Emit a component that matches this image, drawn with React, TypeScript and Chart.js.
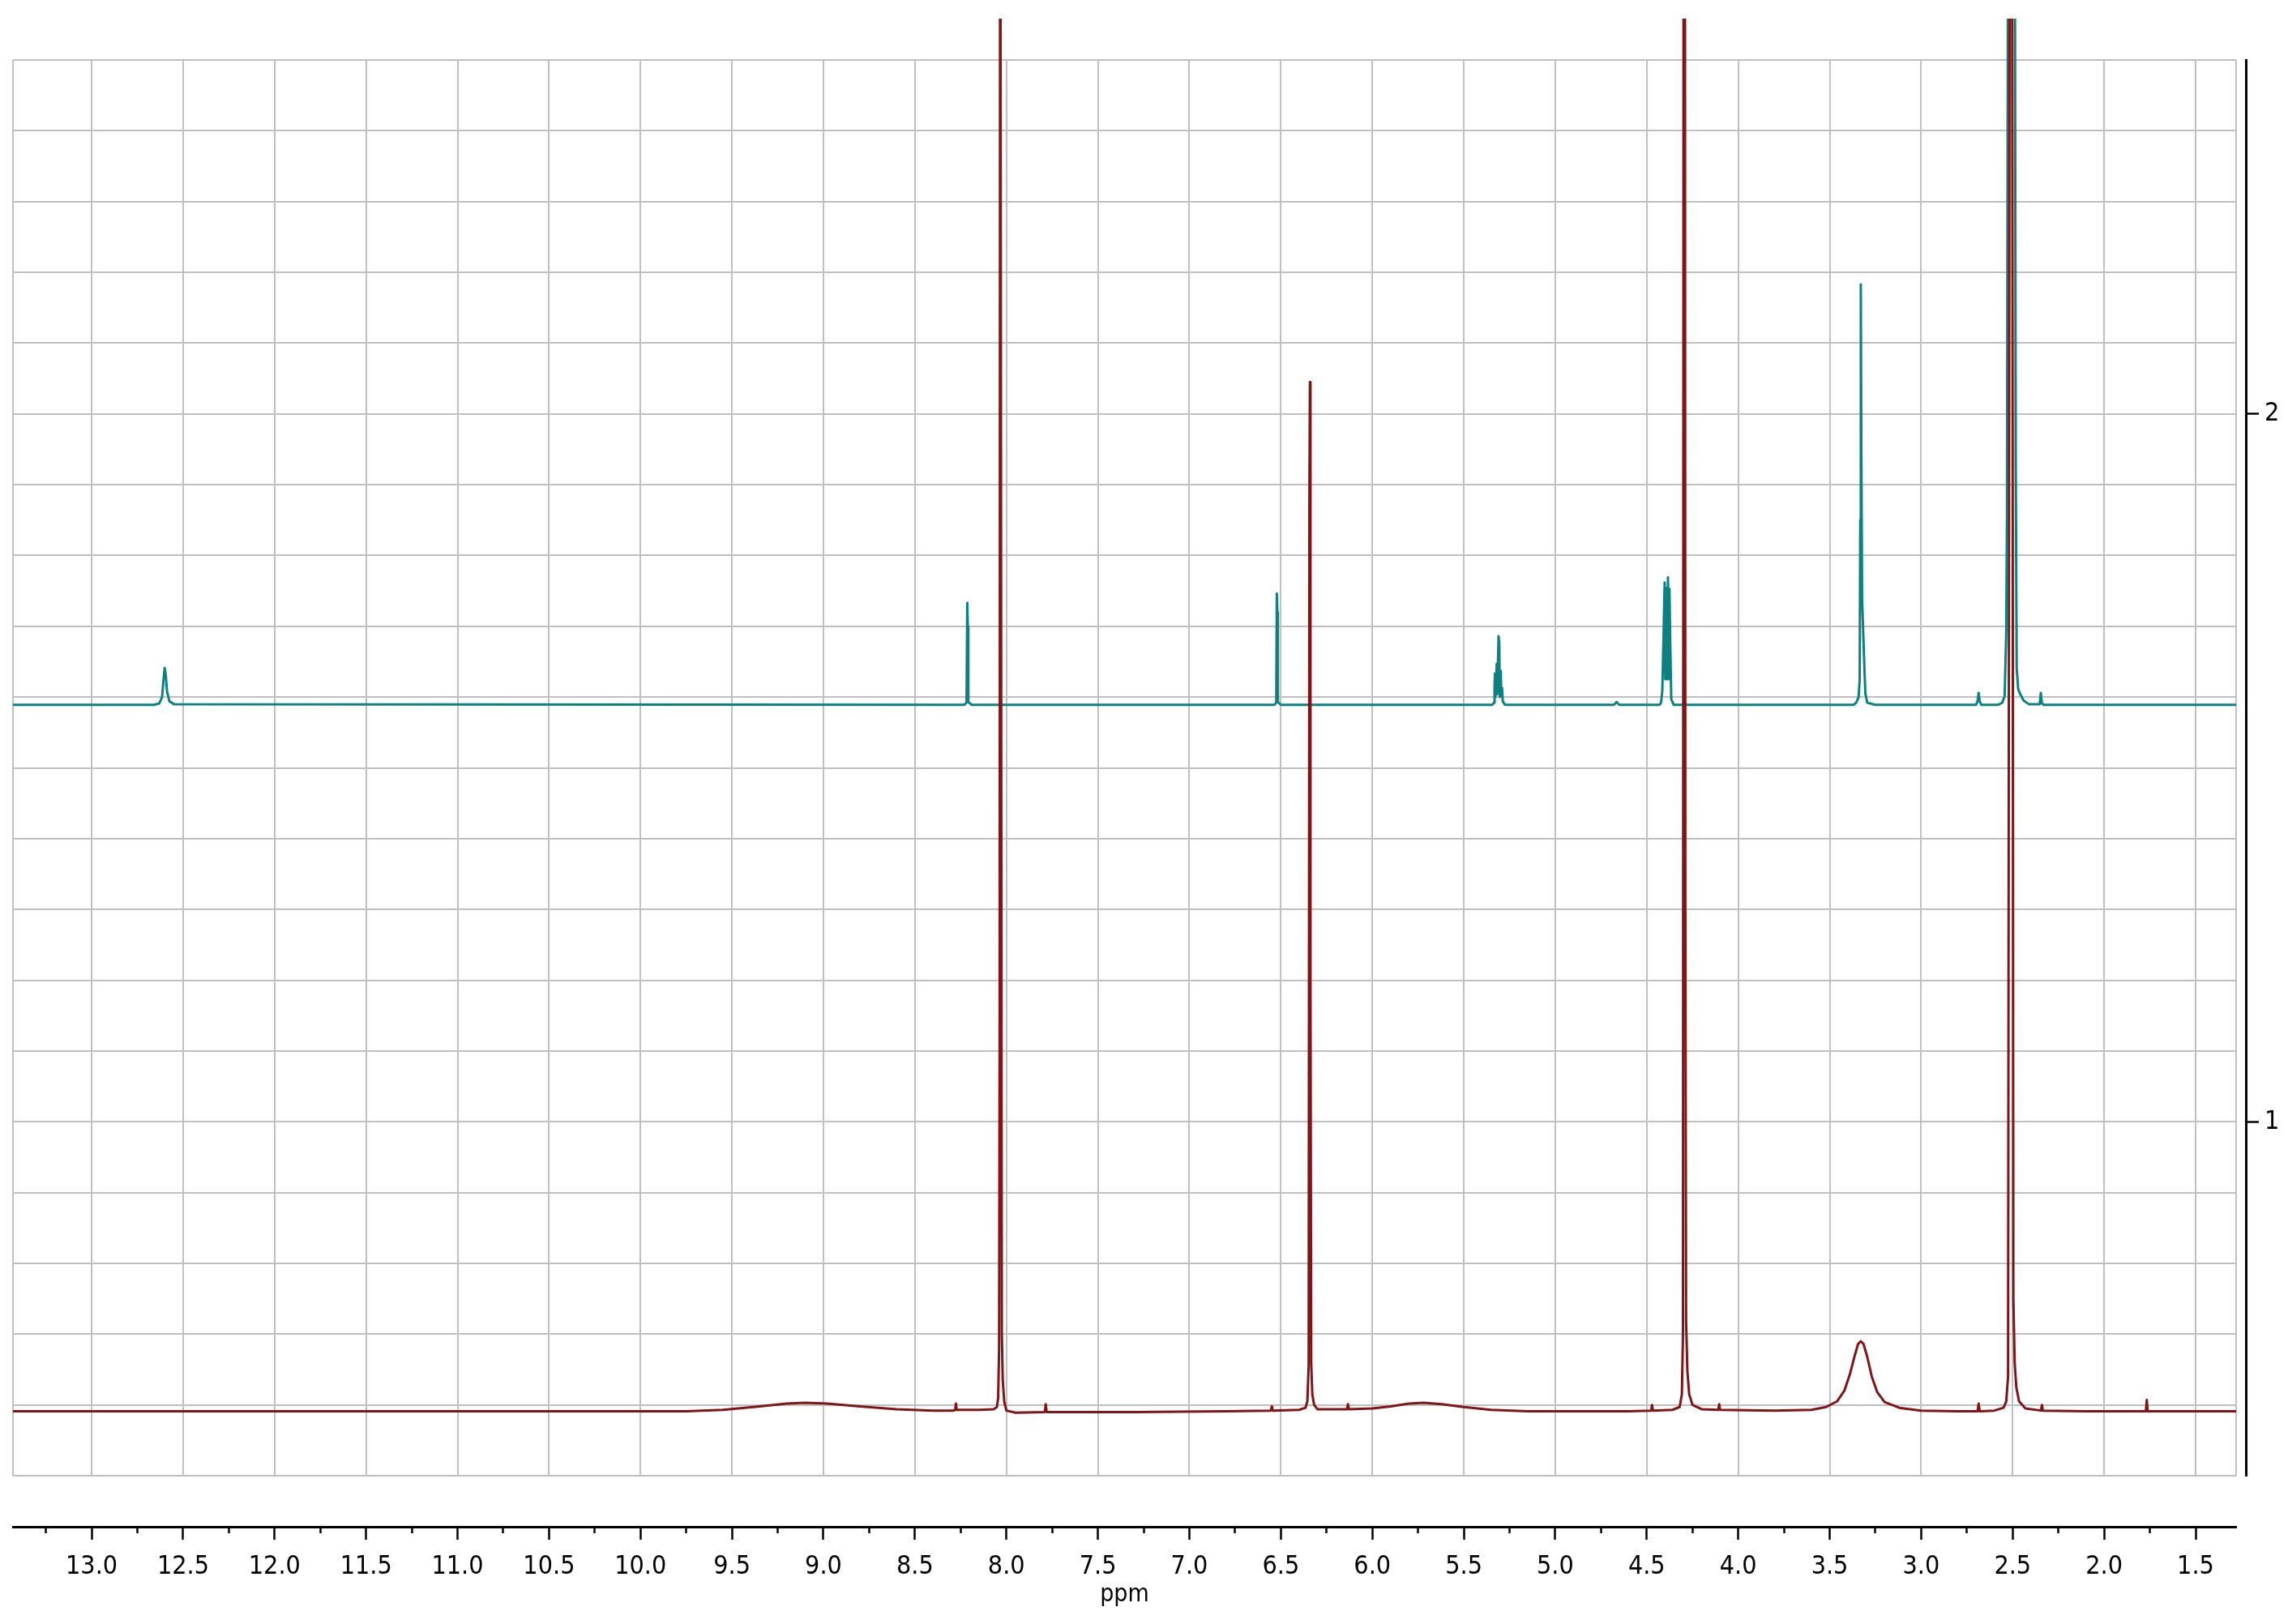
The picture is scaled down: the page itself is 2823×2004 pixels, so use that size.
import React, { useEffect, useRef } from "react";
import { Chart, registerables } from "chart.js";

Chart.register(...registerables);

// ---- axis ranges / tick values ----
const X_LEFT = 13.43;
const X_RIGHT = 1.2785;
const Y_MIN = 0.5;
const Y_MAX = 2.5;

const xMajorTicks = [
  13.0, 12.5, 12.0, 11.5, 11.0, 10.5, 10.0, 9.5, 9.0, 8.5, 8.0, 7.5,
  7.0, 6.5, 6.0, 5.5, 5.0, 4.5, 4.0, 3.5, 3.0, 2.5, 2.0, 1.5,
];
const yLabelTicks = [1, 2];
const xTitle = "ppm";

// ---- spectra: [ppm, intensity] ----
const redSpectrum: [number, number][] = [
  [13.43, 0.591], [9.75, 0.591], [9.55, 0.593], [9.35, 0.598], [9.2, 0.602],
  [9.1, 0.603], [8.98, 0.602], [8.8, 0.598], [8.6, 0.594], [8.4, 0.592],
  [8.29, 0.592], [8.28, 0.593], [8.276, 0.602], [8.272, 0.593], [8.15, 0.593],
  [8.07, 0.594], [8.052, 0.597], [8.045, 0.61], [8.04, 0.68], [8.037, 1.142],
  [8.034, 3.2], [8.03, 3.2], [8.028, 1.441], [8.025, 0.7], [8.02, 0.635],
  [8.012, 0.605], [8.0, 0.592], [7.95, 0.589], [7.79, 0.59], [7.785, 0.601],
  [7.78, 0.59], [7.3, 0.59], [6.8, 0.591], [6.555, 0.592], [6.549, 0.598],
  [6.544, 0.592], [6.4, 0.593], [6.365, 0.596], [6.355, 0.605], [6.348, 0.655],
  [6.344, 1.874], [6.341, 2.045], [6.338, 1.2], [6.334, 0.66], [6.328, 0.615],
  [6.318, 0.6], [6.3, 0.594], [6.2, 0.594], [6.138, 0.594], [6.133, 0.601],
  [6.128, 0.594], [6.0, 0.595], [5.9, 0.598], [5.8, 0.602], [5.72, 0.603],
  [5.62, 0.601], [5.5, 0.597], [5.35, 0.593], [5.15, 0.591], [4.6, 0.591],
  [4.476, 0.592], [4.471, 0.6], [4.466, 0.592], [4.36, 0.593], [4.32, 0.597],
  [4.308, 0.615], [4.302, 0.7], [4.299, 2.6], [4.296, 3.2], [4.292, 3.2],
  [4.289, 1.3], [4.285, 0.72], [4.278, 0.648], [4.268, 0.615], [4.25, 0.6],
  [4.2, 0.594], [4.109, 0.593], [4.104, 0.601], [4.099, 0.593], [3.8, 0.592],
  [3.6, 0.593], [3.52, 0.597], [3.46, 0.605], [3.42, 0.62], [3.39, 0.643],
  [3.365, 0.668], [3.345, 0.686], [3.33, 0.69], [3.315, 0.686], [3.295, 0.668],
  [3.27, 0.64], [3.24, 0.618], [3.2, 0.604], [3.12, 0.596], [3.0, 0.592],
  [2.8, 0.591], [2.692, 0.591], [2.686, 0.602], [2.68, 0.591], [2.6, 0.592],
  [2.55, 0.596], [2.535, 0.605], [2.525, 0.64], [2.52, 1.79], [2.514, 3.2],
  [2.505, 3.2], [2.5, 1.958], [2.496, 0.75], [2.489, 0.66], [2.48, 0.625],
  [2.465, 0.605], [2.43, 0.595], [2.345, 0.592], [2.34, 0.6], [2.335, 0.592],
  [2.1, 0.591], [1.772, 0.591], [1.767, 0.607], [1.762, 0.591], [1.2785, 0.591],
];

const tealSpectrum: [number, number][] = [
  [13.43, 1.589], [12.66, 1.589], [12.63, 1.591], [12.615, 1.6], [12.607, 1.625],
  [12.601, 1.641], [12.595, 1.632], [12.588, 1.608], [12.575, 1.594], [12.55, 1.59],
  [8.23, 1.589], [8.218, 1.592], [8.214, 1.733], [8.211, 1.7], [8.208, 1.593],
  [8.19, 1.589], [6.535, 1.589], [6.525, 1.592], [6.522, 1.746], [6.519, 1.72],
  [6.516, 1.593], [6.5, 1.589], [5.345, 1.589], [5.334, 1.592], [5.332, 1.614],
  [5.33, 1.633], [5.327, 1.6], [5.32, 1.647], [5.317, 1.604], [5.31, 1.686],
  [5.306, 1.675], [5.303, 1.6], [5.298, 1.637], [5.295, 1.602], [5.291, 1.613],
  [5.287, 1.594], [5.275, 1.589], [4.68, 1.589], [4.665, 1.593], [4.65, 1.589],
  [4.43, 1.589], [4.422, 1.592], [4.415, 1.608], [4.408, 1.69], [4.402, 1.762],
  [4.399, 1.625], [4.395, 1.754], [4.39, 1.625], [4.384, 1.769], [4.38, 1.625],
  [4.376, 1.753], [4.371, 1.67], [4.366, 1.597], [4.352, 1.589], [3.37, 1.589],
  [3.355, 1.592], [3.342, 1.6], [3.336, 1.625], [3.333, 1.85], [3.33, 2.183],
  [3.327, 1.95], [3.323, 1.74], [3.318, 1.7], [3.31, 1.639], [3.305, 1.605],
  [3.295, 1.592], [3.25, 1.589], [2.7, 1.589], [2.692, 1.594], [2.686, 1.606],
  [2.68, 1.594], [2.672, 1.589], [2.58, 1.589], [2.557, 1.592], [2.544, 1.601],
  [2.535, 1.692], [2.531, 1.86], [2.522, 3.2], [2.496, 3.2], [2.487, 2.54],
  [2.483, 1.926], [2.478, 1.641], [2.47, 1.612], [2.462, 1.606], [2.44, 1.595],
  [2.412, 1.59], [2.352, 1.59], [2.346, 1.606], [2.34, 1.591], [2.33, 1.589],
  [1.2785, 1.589],
];

// ---- styles ----
const RED = "#7f1517";
const TEAL = "#0e8080";
const GRID = "#c0c0c0";
const FONT_FAMILY = '"DejaVu Sans Condensed", "DejaVu Sans", sans-serif';

const CANVAS_W = 2807;
const CANVAS_H = 1980;

export default function App() {
  const ref = useRef<HTMLCanvasElement>(null);

  useEffect(() => {
    if (!ref.current) return;
    const xMinorTicks = xMajorTicks
      .flatMap((v) => [v + 0.25, v])
      .filter((v) => v <= X_LEFT);
    const xGridValues = [X_LEFT, ...xMajorTicks, X_RIGHT];
    const yGridValues = Array.from({ length: 21 }, (_, i) =>
      Number((Y_MIN + i * 0.1).toFixed(1))
    );
    const xBase = {
      type: "linear" as const,
      position: "bottom" as const,
      reverse: true,
      min: X_RIGHT,
      max: X_LEFT,
    };
    const yBase = { type: "linear" as const, min: Y_MIN, max: Y_MAX };
    const tickFont = { family: FONT_FAMILY, size: 32 };

    const chart = new Chart(ref.current, {
      type: "scatter",
      data: {
        datasets: [
          {
            label: "red",
            data: redSpectrum.map(([x, y]) => ({ x, y })),
            showLine: true,
            borderColor: RED,
            backgroundColor: RED,
            borderWidth: 3,
            borderJoinStyle: "round",
            pointRadius: 0,
            fill: false,
            clip: { left: 0, top: 51, right: 0, bottom: 0 },
            xAxisID: "x",
            yAxisID: "y",
          },
          {
            label: "teal",
            data: tealSpectrum.map(([x, y]) => ({ x, y })),
            showLine: true,
            borderColor: TEAL,
            backgroundColor: TEAL,
            borderWidth: 3,
            borderJoinStyle: "round",
            pointRadius: 0,
            fill: false,
            clip: { left: 0, top: 51, right: 0, bottom: 0 },
            xAxisID: "x",
            yAxisID: "y",
          },
        ],
      },
      options: {
        responsive: false,
        animation: false,
        devicePixelRatio: 1,
        layout: { padding: { top: 66, left: 8, right: 0, bottom: 0 } },
        plugins: { legend: { display: false }, tooltip: { enabled: false } },
        events: [],
        scales: {
          x: {
            ...xBase,
            weight: 0,
            afterBuildTicks: (s: any) => {
              s.ticks = xGridValues.map((v) => ({ value: v }));
            },
            grid: { color: GRID, lineWidth: 2, drawTicks: false },
            border: { display: false },
            ticks: { display: false },
            afterFit: (s: any) => {
              s.height = 0;
            },
          },
          xGap: {
            ...xBase,
            weight: 1,
            grid: { display: false, drawTicks: false },
            border: { display: false },
            ticks: { display: false },
            afterFit: (s: any) => {
              s.height = 63;
            },
          },
          xMinor: {
            ...xBase,
            weight: 2,
            afterBuildTicks: (s: any) => {
              s.ticks = xMinorTicks.map((v) => ({ value: v }));
            },
            grid: {
              drawOnChartArea: false,
              drawTicks: true,
              tickLength: 8,
              tickWidth: 2.5,
              tickColor: "#000",
            },
            border: { display: true, color: "#000", width: 3 },
            ticks: { display: false },
            afterFit: (s: any) => {
              s.height = 8;
            },
          },
          xMajor: {
            ...xBase,
            weight: 3,
            afterBuildTicks: (s: any) => {
              s.ticks = xMajorTicks.map((v) => ({ value: v }));
            },
            grid: {
              drawOnChartArea: false,
              drawTicks: true,
              tickLength: 8,
              tickWidth: 2.5,
              tickColor: "#000",
            },
            border: { display: false },
            ticks: {
              display: true,
              padding: 14,
              color: "#000",
              font: tickFont,
              autoSkip: false,
              maxRotation: 0,
              callback: (v: any) => Number(v).toFixed(1),
            },
            title: {
              display: true,
              text: xTitle,
              color: "#000",
              font: { family: FONT_FAMILY, size: 30 },
              padding: { top: 0, bottom: 2 },
            },
            afterFit: (s: any) => {
              s.height = 96;
            },
          },
          y: {
            ...yBase,
            position: "left",
            weight: 0,
            afterBuildTicks: (s: any) => {
              s.ticks = yGridValues.map((v) => ({ value: v }));
            },
            grid: { color: GRID, lineWidth: 2, drawTicks: false },
            border: { display: false },
            ticks: { display: false },
            afterFit: (s: any) => {
              s.width = 0;
            },
          },
          yGap: {
            ...yBase,
            position: "right",
            weight: 1,
            grid: { display: false, drawTicks: false },
            border: { display: false },
            ticks: { display: false },
            afterFit: (s: any) => {
              s.width = 12;
            },
          },
          yAxis: {
            ...yBase,
            position: "right",
            weight: 2,
            afterBuildTicks: (s: any) => {
              s.ticks = yLabelTicks.map((v) => ({ value: v }));
            },
            grid: {
              drawOnChartArea: false,
              drawTicks: true,
              tickLength: 16,
              tickWidth: 2.5,
              tickColor: "#000",
            },
            border: { display: true, color: "#000", width: 3 },
            ticks: {
              display: true,
              padding: 7,
              color: "#000",
              font: tickFont,
              callback: (v: any) => String(v),
            },
            afterFit: (s: any) => {
              s.width = 44;
            },
          },
        },
      } as any,
    });
    return () => chart.destroy();
  }, []);

  return (
    <canvas
      ref={ref}
      width={CANVAS_W}
      height={CANVAS_H}
      style={{ display: "block", width: CANVAS_W, height: CANVAS_H }}
    />
  );
}
